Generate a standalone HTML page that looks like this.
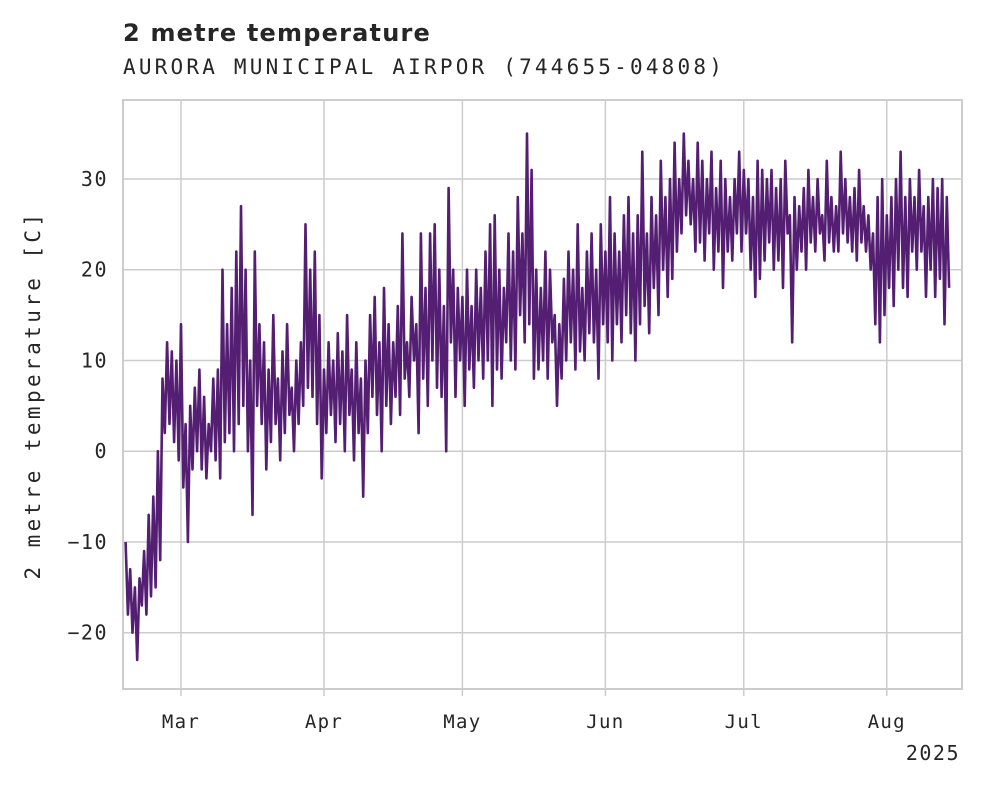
<!DOCTYPE html>
<html><head><meta charset="utf-8"><style>
body{margin:0;background:#fff;}
svg text{font-family:"DejaVu Sans Mono","Liberation Mono",monospace;fill:#262626;}
</style></head><body>
<svg width="981" height="785" xmlns="http://www.w3.org/2000/svg">
<text x="123" y="41" style="font-family:'DejaVu Sans','Liberation Sans',sans-serif;font-weight:bold;font-size:24px;letter-spacing:1.2px">2 metre temperature</text>
<text x="123" y="74" style="font-size:21px;letter-spacing:3.2px">AURORA MUNICIPAL AIRPOR (744655-04808)</text>
<g id="grid"></g>
<g id="plot"></g>
<rect x="123" y="100" width="839" height="589" fill="none" stroke="#cccccc" stroke-width="2"/>
<g id="axes"></g>
<text x="40" y="395" transform="rotate(-90 40 395)" text-anchor="middle" style="font-size:21px;letter-spacing:3.4px">2 metre temperature [C]</text>
<text x="960" y="760" text-anchor="end" style="font-size:20px;letter-spacing:1.5px">2025</text>
</svg>
<script>
const yTicks=[-20,-10,0,10,20,30];
const monthLabels=["Mar","Apr","May","Jun","Jul","Aug"];
const monthDays=[59,90,120,151,181,212];
const startDay=47;
const stepDays=0.5;
const temps=[
-10,-18,-13,-20,-15,-23,-14,-17,-11,-18,-7,-16,-5,-15,
0,-12,8,2,12,3,11,1,10,-1,14,-4,3,-10,
5,-2,7,0,9,-2,6,-3,3,0,8,-1,9,-3,
20,1,14,2,18,0,22,3,27,5,20,0,10,-7,
22,5,14,3,12,-2,9,1,15,3,8,-1,11,2,
14,4,7,0,10,3,12,5,25,7,20,6,22,3,
15,-3,9,2,12,4,10,1,13,3,11,0,15,4,
9,-1,12,2,8,-5,10,2,15,6,17,4,12,0,
18,5,14,3,12,6,16,4,24,8,12,6,17,10,
14,2,24,8,18,5,24,10,25,7,20,6,16,0,
29,12,20,6,18,10,17,5,20,9,16,7,20,10,
18,8,22,10,25,5,26,9,20,8,18,12,24,10,
22,9,28,15,24,12,35,14,31,8,20,9,18,10,
22,8,20,12,15,5,14,8,19,10,22,12,20,9,
25,11,18,10,22,13,24,12,20,8,25,14,22,12,
28,10,24,14,22,12,26,15,28,13,24,10,26,14,
33,16,24,13,28,18,26,15,32,20,28,17,30,19,
34,22,30,24,35,26,32,25,30,22,34,23,32,21,
30,24,33,20,29,22,32,18,30,22,28,21,30,24,
33,22,31,24,30,20,28,17,32,19,31,21,30,23,
31,20,29,21,30,18,32,24,26,12,28,20,27,22,
29,20,31,23,28,22,30,24,26,21,32,23,28,22,
27,22,33,24,30,23,28,22,29,21,31,23,27,22,
26,20,24,14,28,12,30,15,26,18,28,16,30,20,
33,18,28,17,30,22,28,20,31,22,27,17,28,20,
30,17,29,19,30,14,28,18
];
const NS="http://www.w3.org/2000/svg";
const x0=123,x1=962,y0=100,y1=689;
const dMin=46.43,dMax=228.3,tMin=-26.2,tMax=38.7;
const xs=d=>x0+(d-dMin)/(dMax-dMin)*(x1-x0);
const ys=t=>y1-(t-tMin)/(tMax-tMin)*(y1-y0);
const grid=document.getElementById('grid'),axes=document.getElementById('axes'),plot=document.getElementById('plot');
function mk(tag,attrs,parent){const e=document.createElementNS(NS,tag);for(const k in attrs)e.setAttribute(k,attrs[k]);parent.appendChild(e);return e;}
yTicks.forEach(t=>{
  const l=mk('line',{x1:x0,x2:x1,y1:ys(t),y2:ys(t),stroke:'#cccccc','stroke-width':1.5},grid);
  
  
  const tx=mk('text',{x:108,y:ys(t)+7,'text-anchor':'end','font-size':'20px','letter-spacing':'1.5px'},axes);
  tx.textContent=t<0?'\u2212'+Math.abs(t):String(t);
  
  
});
monthDays.forEach((d,i)=>{
  const l=mk('line',{x1:xs(d),x2:xs(d),y1:y0,y2:y1,stroke:'#cccccc','stroke-width':1.5},grid);
  
  
  const tk=mk('line',{x1:xs(d),x2:xs(d),y1:y1,y2:y1+7,stroke:'#cccccc','stroke-width':1.5},axes);
  
  
  const tx=mk('text',{x:xs(d),y:728,'text-anchor':'middle','font-size':'19px','letter-spacing':'1.3px'},axes);
  tx.textContent=monthLabels[i];
  
  
});
const pts=temps.map((t,i)=>xs(startDay+i*stepDays).toFixed(1)+','+ys(t).toFixed(1)).join(' ');
const pl=mk('polyline',{points:pts,fill:'none',stroke:'#541f72','stroke-width':2.6,'stroke-linejoin':'round'},plot);


</script>
</body></html>
